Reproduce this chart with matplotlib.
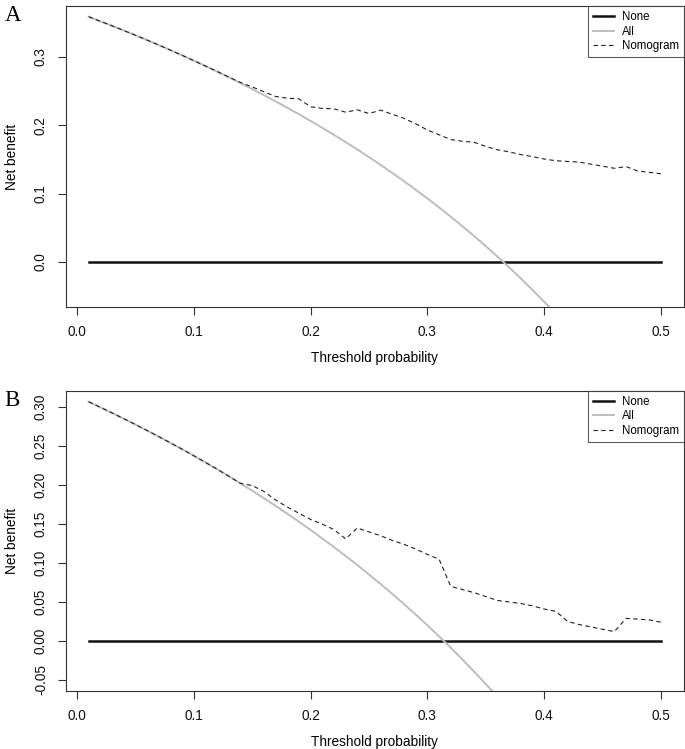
import matplotlib.pyplot as plt

# Threshold probabilities (x values shared by both panels)
thresholds = [0.01, 0.02, 0.03, 0.04, 0.05, 0.06, 0.07, 0.08, 0.09, 0.10,
              0.11, 0.12, 0.13, 0.14, 0.15, 0.16, 0.17, 0.18, 0.19, 0.20,
              0.21, 0.22, 0.23, 0.24, 0.25, 0.26, 0.27, 0.28, 0.29, 0.30,
              0.31, 0.32, 0.33, 0.34, 0.35, 0.36, 0.37, 0.38, 0.39, 0.40,
              0.41, 0.42, 0.43, 0.44, 0.45, 0.46, 0.47, 0.48, 0.49, 0.50]

# Panel A
all_a = [0.3586, 0.3520, 0.3454, 0.3385, 0.3316, 0.3245, 0.3172, 0.3098, 0.3022, 0.2944,
         0.2865, 0.2784, 0.2701, 0.2616, 0.2529, 0.2440, 0.2349, 0.2256, 0.2161, 0.2063,
         0.1962, 0.1859, 0.1753, 0.1645, 0.1533, 0.1419, 0.1301, 0.1181, 0.1056, 0.0929,
         0.0797, 0.0662, 0.0522, 0.0379, 0.0231, 0.0078, -0.0079, -0.0242, -0.0410, -0.0583,
         -0.0763, -0.0948]
nomo_a = [0.3586, 0.3520, 0.3454, 0.3385, 0.3316, 0.3245, 0.3172, 0.3098, 0.3022, 0.2944,
          0.2866, 0.2786, 0.2704, 0.2625, 0.2560, 0.2490, 0.2420, 0.2395, 0.2385, 0.2270,
          0.2245, 0.2240, 0.2190, 0.2225, 0.2170, 0.2220, 0.2160, 0.2100, 0.2020, 0.1930,
          0.1860, 0.1790, 0.1765, 0.1750, 0.1690, 0.1640, 0.1610, 0.1570, 0.1540, 0.1505,
          0.1480, 0.1470, 0.1460, 0.1430, 0.1400, 0.1370, 0.1395, 0.1330, 0.1310, 0.1290]

# Panel B
all_b = [0.3071, 0.3000, 0.2928, 0.2854, 0.2779, 0.2702, 0.2624, 0.2543, 0.2462, 0.2378,
         0.2292, 0.2205, 0.2115, 0.2023, 0.1929, 0.1833, 0.1735, 0.1634, 0.1531, 0.1425,
         0.1316, 0.1205, 0.1091, 0.0974, 0.0853, 0.0730, 0.0603, 0.0472, 0.0338, 0.0200,
         0.0058, -0.0088, -0.0239, -0.0394, -0.0554, -0.0719, -0.0890]
nomo_b = [0.3071, 0.3000, 0.2928, 0.2854, 0.2779, 0.2702, 0.2624, 0.2543, 0.2462, 0.2378,
          0.2292, 0.2205, 0.2115, 0.2023, 0.1995, 0.1920, 0.1810, 0.1720, 0.1640, 0.1560,
          0.1500, 0.1430, 0.1310, 0.1450, 0.1400, 0.1350, 0.1290, 0.1240, 0.1180, 0.1110,
          0.1050, 0.0700, 0.0660, 0.0620, 0.0570, 0.0520, 0.0500, 0.0480, 0.0450, 0.0410,
          0.0380, 0.0250, 0.0210, 0.0180, 0.0150, 0.0120, 0.0290, 0.0280, 0.0270, 0.0240]

xticks = [0.0, 0.1, 0.2, 0.3, 0.4, 0.5]
yticks_a = [0.0, 0.1, 0.2, 0.3]
yticks_b = [-0.05, 0.00, 0.05, 0.10, 0.15, 0.20, 0.25, 0.30]

plt.rcParams['font.family'] = ['Liberation Sans', 'DejaVu Sans']

fig = plt.figure(figsize=(6.85, 7.49), dpi=100)
ax_a = fig.add_axes([0.0959, 0.5897, 0.9026, 0.4023])
ax_b = fig.add_axes([0.0959, 0.0774, 0.9026, 0.4010])


def draw_panel(ax, all_vals, nomo_vals, yticks, yfmt, ylim, letter):
    none_vals = [0.0 for _ in thresholds]
    ax.plot(thresholds, none_vals, color='#111111', lw=1.8, label='None')
    ax.plot(thresholds[:len(all_vals)], all_vals, color='#bdbdbd', lw=1.4, label='All')
    ax.plot(thresholds, nomo_vals, color='#222222', lw=0.8, dashes=(4, 3), label='Nomogram')

    ax.set_xlim(-0.0096, 0.5196)
    ax.set_ylim(*ylim)
    ax.set_xticks(xticks)
    ax.set_xticklabels([f'{t:.1f}' for t in xticks])
    ax.set_yticks(yticks)
    ax.set_yticklabels([yfmt.format(t) for t in yticks], rotation=90, va='center')
    ax.tick_params(direction='out', length=5.8, width=0.8, colors='#333333',
                   labelcolor='#111111', labelsize=9.8, pad=7)
    for sp in ax.spines.values():
        sp.set_color('#333333')
        sp.set_linewidth(0.8)

    ax.set_xlabel('Threshold probability', fontsize=9.8, labelpad=8.5)
    ax.set_ylabel('Net benefit', fontsize=9.8, labelpad=11)

    leg = ax.legend(loc='upper right', fontsize=8.3, frameon=True, fancybox=False,
                    borderaxespad=0, handlelength=1.8, handletextpad=0.7,
                    labelspacing=0.22, borderpad=0.45)
    leg.get_frame().set_edgecolor('#333333')
    leg.get_frame().set_linewidth(0.8)

    ax.text(-0.099, 1.003, letter, transform=ax.transAxes, fontsize=16.5,
            family=['Liberation Serif', 'DejaVu Serif'], ha='left', va='top')


draw_panel(ax_a, all_a, nomo_a, yticks_a, '{:.1f}', (-0.0663, 0.3743), 'A')
draw_panel(ax_b, all_b, nomo_b, yticks_b, '{:.2f}', (-0.0643, 0.3213), 'B')

fig.savefig('out.png', dpi=100)
